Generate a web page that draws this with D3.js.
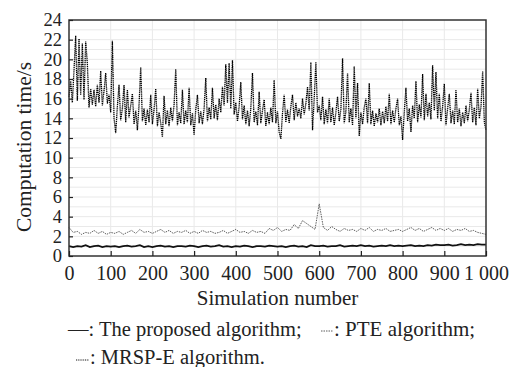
<!DOCTYPE html>
<html>
<head>
<meta charset="utf-8">
<script src="https://cdn.jsdelivr.net/npm/d3@7/dist/d3.min.js"></script>
<style>
  body { margin: 0; background: #fff; }
  svg text { font-family: "Liberation Serif", "DejaVu Serif", "Times New Roman", Times, serif; fill: #222; }
</style>
</head>
<body>
<svg id="chart" width="516" height="367"></svg>
<script>
// x positions: simulation numbers
const mrspStep = 4;
const lineStep = 10;

// MRSP-E algorithm, one value every 4 simulations (0..1000)
const mrspValues = [
  16.2, 17.8, 15.6, 18.9, 22.4, 15.8, 22.1, 16.4, 21.6, 15.9,
  21.8, 19.6, 15.1, 17.0, 15.4, 16.9, 15.2, 17.4, 15.6, 18.8,
  15.3, 16.8, 18.6, 15.5, 16.4, 14.6, 21.9, 14.0, 12.5, 15.2,
  17.4, 13.8, 15.0, 17.4, 13.6, 16.9, 14.1, 15.3, 16.5, 13.4,
  14.8, 12.8, 15.4, 19.2, 13.7, 15.0, 13.3, 14.9, 13.6, 16.4,
  13.4, 14.9, 17.0, 13.2, 14.6, 13.5, 12.1, 16.3, 13.4, 14.8,
  13.2, 15.1, 13.7, 15.4, 19.0, 13.3, 14.6, 13.5, 16.9, 13.4,
  14.8, 13.6, 17.1, 13.3, 14.5, 12.3, 14.9, 16.4, 13.5, 14.7,
  13.4, 15.0, 18.1, 13.7, 15.1, 13.9, 17.1, 14.0, 15.4, 13.8,
  16.0, 14.6, 17.2, 15.3, 19.5, 15.6, 19.6, 15.0, 19.9, 14.4,
  15.6, 13.7, 15.2, 17.7, 13.9, 15.3, 13.4, 14.8, 13.2, 15.0,
  18.6, 13.6, 14.7, 13.3, 16.7, 13.5, 14.8, 15.9, 13.2, 14.6,
  13.4, 15.1, 13.6, 17.9, 13.5, 14.7, 12.6, 11.9, 14.5, 16.4,
  13.6, 14.9, 13.5, 15.2, 16.4, 13.8, 15.6, 14.2, 15.0, 14.0,
  16.0, 14.4, 15.5, 17.2, 14.8, 19.7, 12.8, 16.0, 19.7, 14.6,
  15.3, 13.8, 16.2, 13.4, 14.9, 13.5, 16.0, 13.6, 15.1, 13.3,
  14.6, 16.2, 13.7, 14.9, 20.1, 13.5, 14.7, 18.6, 13.6, 15.0,
  13.3, 19.3, 14.0, 17.6, 12.2, 14.6, 13.4, 15.1, 16.0, 13.5,
  17.6, 13.4, 14.8, 13.2, 14.5, 13.6, 15.0, 13.3, 14.7, 13.5,
  15.2, 13.7, 16.5, 13.4, 14.8, 13.6, 15.0, 16.0, 13.3, 14.2,
  11.8, 14.6, 17.1, 13.7, 15.0, 12.6, 15.3, 14.0, 17.8, 13.6,
  15.4, 14.1, 18.5, 13.8, 16.5, 14.2, 15.6, 13.9, 19.4, 14.8,
  18.7, 14.0, 16.5, 13.7, 15.2, 17.5, 13.3, 15.0, 16.5, 13.5,
  14.8, 13.4, 16.9, 13.6, 15.0, 13.2, 14.6, 13.5, 15.3, 13.7,
  14.9, 16.6, 13.6, 15.1, 13.3, 17.0, 14.0, 15.2, 18.8, 13.6,
  12.8
];

// PTE algorithm, one value every 10 simulations
const pteValues = [
  2.9, 2.4, 2.5, 2.2, 2.4, 2.3, 2.6, 2.3, 2.5, 2.2,
  2.4, 2.3, 2.5, 2.2, 2.4, 2.6, 2.3, 2.7, 2.4, 2.5,
  2.3, 2.5, 2.7, 2.4, 2.6, 2.3, 2.5, 2.4, 2.6, 2.3,
  2.5, 2.3, 2.6, 2.4, 2.5, 2.3, 2.4, 2.6, 2.3, 2.5,
  2.7, 2.4, 2.5, 2.3, 2.6, 2.4, 2.5, 2.3, 2.8, 2.6,
  2.9, 2.5, 2.7, 2.6, 3.2, 2.8, 3.6, 3.3, 3.0, 2.7,
  5.3, 2.9, 2.6, 3.0, 2.7, 2.5, 2.8, 2.6, 2.7, 2.5,
  2.8, 2.6, 2.9, 2.5, 2.7, 2.6, 2.8, 2.5, 2.6, 2.7,
  2.5, 2.7, 2.9, 2.6, 2.8, 2.5, 2.7, 2.9, 2.6, 2.8,
  2.6, 2.8, 2.5, 2.7, 2.6, 2.8, 2.5, 2.6, 2.4, 2.3,
  2.2
];

// The proposed algorithm, one value every 10 simulations
const proposedValues = [
  1.0, 0.9, 1.0, 0.95, 1.1, 0.9, 1.0, 1.05, 0.9, 1.0,
  0.95, 1.0, 0.9, 1.0, 1.05, 0.95, 1.0, 1.1, 0.9, 1.0,
  0.9, 1.0, 1.05, 0.95, 1.0, 0.9, 1.0, 1.0, 0.95, 1.05,
  1.0, 0.9, 1.0, 1.05, 0.95, 1.0, 1.1, 0.95, 1.0, 0.9,
  1.0, 0.95, 1.05, 1.0, 0.9, 1.0, 1.0, 0.95, 1.05, 1.0,
  0.95, 1.0, 0.9, 1.0, 1.05, 0.95, 1.0, 0.9, 1.1, 1.0,
  1.0, 1.05, 0.95, 1.0, 1.0, 1.1, 0.95, 1.0, 1.05, 1.0,
  1.1, 1.0, 1.05, 0.95, 1.0, 1.05, 1.0, 1.1, 1.0, 1.05,
  1.0, 1.05, 1.1, 1.0, 1.05, 1.0, 1.1, 1.05, 1.15, 1.1,
  1.1, 1.15, 1.05, 1.1, 1.2, 1.1, 1.15, 1.1, 1.2, 1.15,
  1.15
];

const xTicks = d3.range(0, 1001, 100);
const yTicks = d3.range(0, 25, 2);

const serif = '"Liberation Serif", "DejaVu Serif", "Times New Roman", Times, serif';

const svg = d3.select("#chart");
const plotLeft = 69, plotRight = 486, plotTop = 20, plotBottom = 256;

const x = d3.scaleLinear().domain([0, 1000]).range([plotLeft, plotRight]);
const y = d3.scaleLinear().domain([0, 24]).range([plotBottom, plotTop]);

// grid
svg.append("g")
  .selectAll("line")
  .data(d3.range(1, 24))
  .enter().append("line")
    .attr("x1", plotLeft).attr("x2", plotRight)
    .attr("y1", d => y(d)).attr("y2", d => y(d))
    .attr("stroke", "#e9e9e9").attr("stroke-width", 1);

svg.append("g")
  .selectAll("line")
  .data(xTicks.slice(1, -1))
  .enter().append("line")
    .attr("y1", plotTop).attr("y2", plotBottom)
    .attr("x1", d => x(d)).attr("x2", d => x(d))
    .attr("stroke", "#e9e9e9").attr("stroke-width", 1);

// series
const line = d3.line().x(d => x(d[0])).y(d => y(d[1]));
const pts = (vals, step) => vals.map((v, i) => [i * step, v]);

svg.append("path")
  .attr("d", line(pts(mrspValues, mrspStep)))
  .attr("fill", "none")
  .attr("stroke", "#000")
  .attr("stroke-width", 1.3)
  .attr("stroke-dasharray", "1.2,0.7");

svg.append("path")
  .attr("d", line(pts(pteValues, lineStep)))
  .attr("fill", "none")
  .attr("stroke", "#333")
  .attr("stroke-width", 0.8)
  .attr("stroke-dasharray", "1.5,1");

svg.append("path")
  .attr("d", line(pts(proposedValues, lineStep)))
  .attr("fill", "none")
  .attr("stroke", "#111")
  .attr("stroke-width", 1.8);

// frame
svg.append("rect")
  .attr("x", plotLeft).attr("y", plotTop)
  .attr("width", plotRight - plotLeft).attr("height", plotBottom - plotTop)
  .attr("fill", "none")
  .attr("stroke", "#333").attr("stroke-width", 1.5);

// axes
const xAxis = d3.axisBottom(x)
  .tickValues(xTicks)
  .tickSize(-5)
  .tickPadding(10)
  .tickFormat(d => d === 1000 ? "1 000" : d);

svg.append("g")
  .attr("transform", `translate(0, ${plotBottom})`)
  .attr("font-family", serif)
  .call(xAxis)
  .call(g => g.select(".domain").remove())
  .call(g => g.selectAll(".tick line").attr("stroke", "#222").attr("stroke-width", 1.2))
  .call(g => g.selectAll(".tick text").attr("font-size", 20).attr("font-family", serif).attr("fill", "#222"));

const yAxis = d3.axisLeft(y)
  .tickValues(yTicks)
  .tickSize(-4)
  .tickPadding(7);

svg.append("g")
  .attr("transform", `translate(${plotLeft}, 0)`)
  .call(yAxis)
  .call(g => g.select(".domain").remove())
  .call(g => g.selectAll(".tick line").attr("stroke", "#222").attr("stroke-width", 1.2))
  .call(g => g.selectAll(".tick text").attr("font-size", 18.5).attr("font-family", serif).attr("fill", "#222"));

// titles
svg.append("text")
  .attr("x", (plotLeft + plotRight) / 2).attr("y", 305)
  .attr("text-anchor", "middle").attr("font-size", 21)
  .attr("font-family", serif)
  .text("Simulation number");

svg.append("text")
  .attr("transform", `translate(31, ${(plotTop + plotBottom) / 2 + 9}) rotate(-90)`)
  .attr("text-anchor", "middle").attr("font-size", 21.5)
  .attr("font-family", serif)
  .text("Computation time/s");

// legend
svg.append("text")
  .attr("x", 68).attr("y", 336).attr("font-size", 20.5)
  .attr("font-family", serif)
  .text("—: The proposed algorithm;");

svg.append("line")
  .attr("x1", 321).attr("x2", 333).attr("y1", 331).attr("y2", 331)
  .attr("stroke", "#333").attr("stroke-width", 0.8).attr("stroke-dasharray", "1.5,1");

svg.append("text")
  .attr("x", 334).attr("y", 336).attr("font-size", 21)
  .attr("font-family", serif)
  .text(": PTE algorithm;");

svg.append("line")
  .attr("x1", 76).attr("x2", 89).attr("y1", 360).attr("y2", 360)
  .attr("stroke", "#111").attr("stroke-width", 1).attr("stroke-dasharray", "1,0.8");

svg.append("text")
  .attr("x", 90).attr("y", 364).attr("font-size", 20.5)
  .attr("font-family", serif)
  .text(": MRSP-E algorithm.");
</script>
</body>
</html>
